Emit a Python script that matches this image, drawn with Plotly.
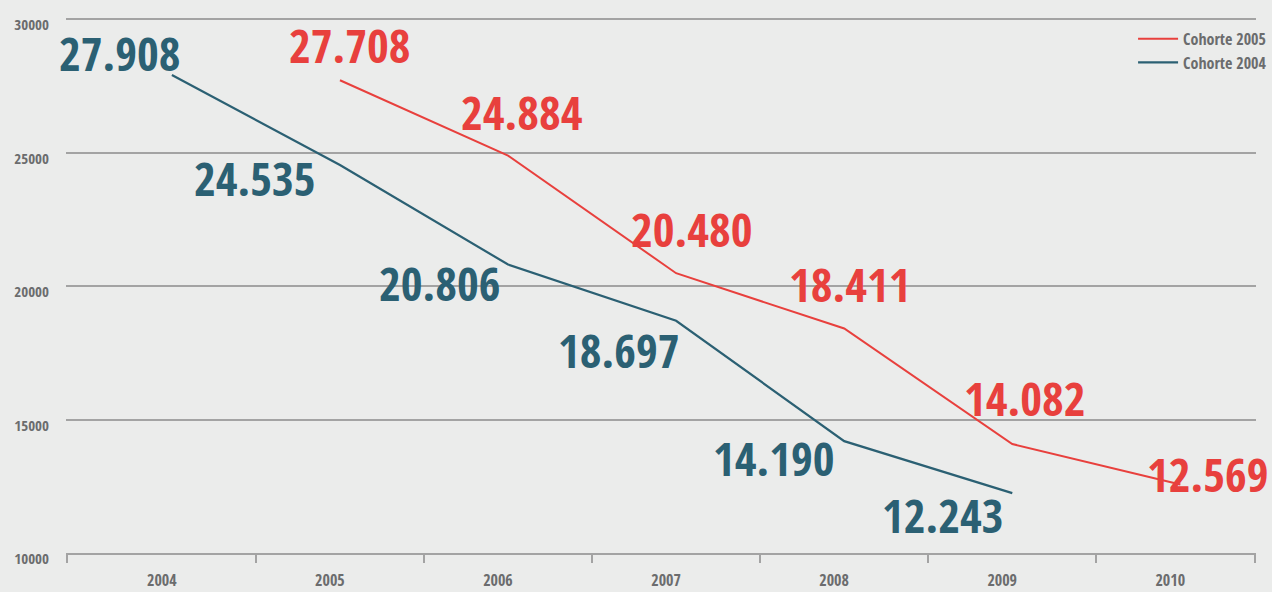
import plotly.graph_objects as go

years = ["2004", "2005", "2006", "2007", "2008", "2009", "2010"]
cohort_2004 = [27908, 24535, 20806, 18697, 14190, 12243]
cohort_2005 = [27708, 24884, 20480, 18411, 14082, 12569]
labels_2004 = ["27.908", "24.535", "20.806", "18.697", "14.190", "12.243"]
labels_2005 = ["27.708", "24.884", "20.480", "18.411", "14.082", "12.569"]
ytick_vals = [10000, 15000, 20000, 25000, 30000]

RED = "#e8403d"
TEAL = "#2b6073"
GREY = "#6b6c6e"
GRID = "#a3a3a3"
BG = "#ebeceb"
FONT = "Open Sans Condensed, Roboto Condensed, sans-serif"

x04 = list(range(0, len(cohort_2004)))
x05 = list(range(1, 1 + len(cohort_2005)))

fig = go.Figure()
fig.add_trace(go.Scatter(x=x05, y=cohort_2005, mode="lines", name="Cohorte 2005",
                         line=dict(color=RED, width=2)))
fig.add_trace(go.Scatter(x=x04, y=cohort_2004, mode="lines", name="Cohorte 2004",
                         line=dict(color=TEAL, width=2.2)))

# label offsets (pixels) relative to each point
off04 = [(-52, 22), (-85, -13), (-69, -18), (-58, -29), (-71, -17), (-70, -22)]
off05 = [(10, 35), (14, 44), (15, 44), (5, 44), (12, 46), (47, 10)]

for xi, yi, t, (dx, dy) in zip(x04, cohort_2004, labels_2004, off04):
    fig.add_annotation(x=xi, y=yi, text=t, showarrow=False, xshift=dx, yshift=dy,
                       font=dict(family=FONT, size=47, color=TEAL, weight="bold"))
for i, (xi, yi, t, (dx, dy)) in enumerate(zip(x05, cohort_2005, labels_2005, off05)):
    last = i == len(cohort_2005) - 1
    fig.add_annotation(x=xi, y=yi, text=t, showarrow=False,
                       xshift=(90 if last else dx), yshift=dy,
                       xanchor=("right" if last else "center"),
                       font=dict(family=FONT, size=47, color=RED, weight="bold"))

n = len(years)
fig.update_layout(
    width=1272, height=592, autosize=False,
    margin=dict(l=66, r=16, t=18, b=39, autoexpand=False),
    paper_bgcolor=BG, plot_bgcolor=BG,
    font=dict(family=FONT, color=GREY),
    showlegend=True,
    legend=dict(x=1.0135, xanchor="right", y=0.993, yanchor="top",
                bgcolor="rgba(0,0,0,0)", traceorder="normal",
                font=dict(family=FONT, size=16, color=GREY, weight="bold"),
                itemwidth=40, tracegroupgap=0),
    xaxis=dict(range=[-0.63, 6.45], tickvals=[i - 0.06 for i in range(n)], ticktext=years,
               automargin=False,
               showgrid=False, zeroline=False, showline=True, linecolor=GRID, linewidth=2,
               ticks="", ticklabelstandoff=12,
               tickfont=dict(family=FONT, size=16, color=GREY, weight="bold"),
               minor=dict(tickvals=[-0.625] + [i + 0.5 for i in range(n - 1)] + [6.445],
                          ticks="outside", ticklen=8, tickcolor=GRID, tickwidth=2,
                          showgrid=False)),
    yaxis=dict(range=[10000, 30040], tickvals=ytick_vals,
               ticktext=[str(v) for v in ytick_vals], automargin=False,
               showgrid=True, gridcolor=GRID, gridwidth=2, zeroline=False,
               showline=False, ticks="", ticklabelstandoff=16, ticklabelshift=6,
               tickfont=dict(family=FONT, size=15, color=GREY, weight="bold")),
)
fig.write_html("out.html", config={"displayModeBar": False},
               post_script="document.body.style.margin='0px';")
